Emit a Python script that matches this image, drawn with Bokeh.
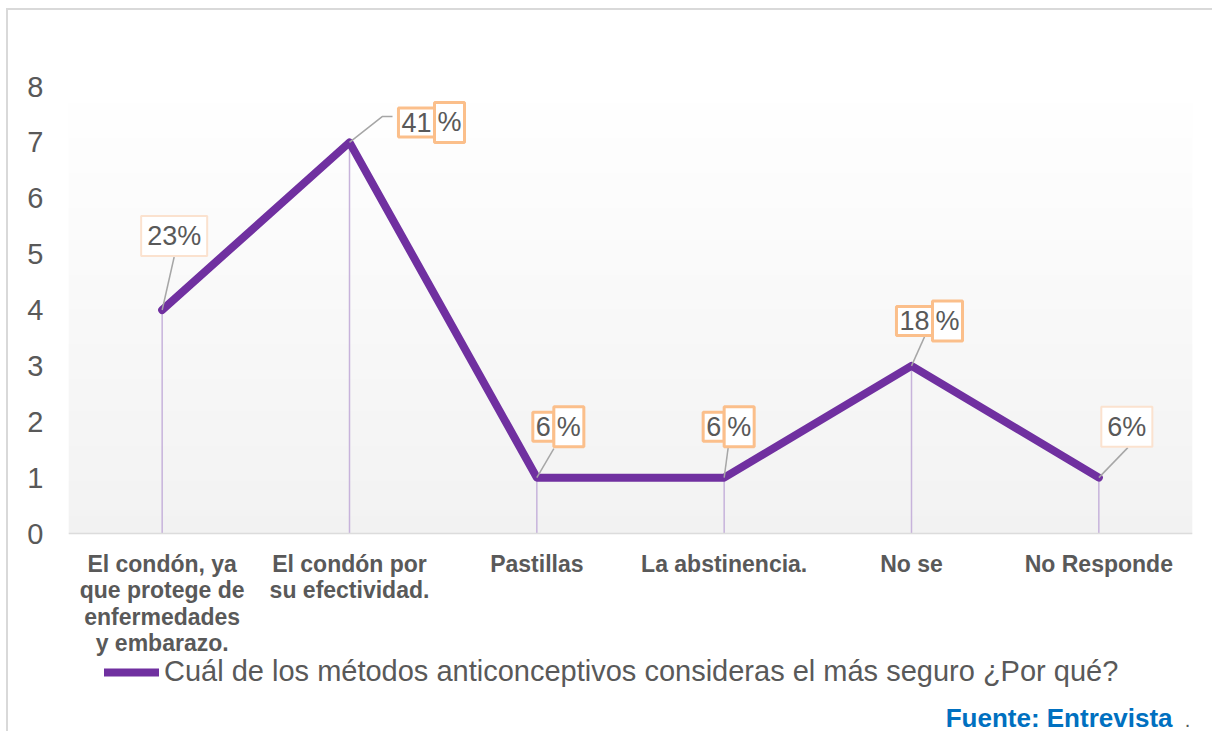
import numpy as np
from bokeh.plotting import figure
from bokeh.models import (FixedTicker, Range1d, Legend, LegendItem, Label,
                          ColumnDataSource)
from bokeh.embed import file_html
from bokeh.resources import INLINE
from bokeh.core.properties import value

# ---------------- data ----------------
categories = [
    "El condón, ya\nque protege de\nenfermedades\ny embarazo.",
    "El condón por\nsu efectividad.",
    "Pastillas",
    "La abstinencia.",
    "No se",
    "No Responde",
]
counts = [4, 7, 1, 1, 3, 1]
pct_labels = ["23%", "41%", "6%", "6%", "18%", "6%"]
y_ticks = [0, 1, 2, 3, 4, 5, 6, 7, 8]
series_name = "Cuál de los métodos anticonceptivos consideras el más seguro ¿Por qué?"
source_note = "Fuente: Entrevista"

# ---------------- layout / style ----------------
FONT = "Liberation Sans"
W, H = 1206, 723                 # canvas starts at page (8, 10)
B_LEFT, B_RIGHT, B_TOP, B_BOTTOM = 60, 22, 76, 0
FRAME_W = W - B_LEFT - B_RIGHT
FRAME_H = H - B_TOP - B_BOTTOM
N = len(categories)
YMAX = 8
PLOT_H = 447                     # pixel height of the 0..8 value band
UX = FRAME_W / N                 # px per x unit
UY = PLOT_H / YMAX               # px per y unit
YMIN = YMAX - FRAME_H / UY       # room below 0 for labels / legend

PURPLE = "#7030a0"
TXT = "#595959"

xs = [i + 0.5 for i in range(N)]

# label placement (screen px, relative to the point; dy positive = up)
label_dx = [12, 85, 17, 0, 21, 28]
label_dy = [74, 20, 51, 51, 45, 51]
split = [False, True, True, True, True, False]
leaders = [
    [(0, 0), (12, 53)],
    [(0, 0), (33, 26), (43, 26)],
    [(0, 0), (17, 29)],
    [(0, 0), (4, 30)],
    [(0, 0), (13, 29)],
    [(0, 0), (29, 30)],
]

p = figure(width=W, height=H, x_range=Range1d(0, N), y_range=Range1d(YMIN, YMAX),
           output_backend="svg", toolbar_location=None,
           min_border_left=B_LEFT, min_border_right=B_RIGHT,
           min_border_top=B_TOP, min_border_bottom=B_BOTTOM)
p.styles = {"border-left": "2px solid #d9d9d9", "border-top": "2px solid #d9d9d9",
            "margin-left": "6px", "margin-top": "8px"}
p.outline_line_color = None
p.grid.visible = False
p.background_fill_color = "white"
p.border_fill_color = "white"

# gradient plot-area background (white at top -> light grey at bottom)
n = 128
img = np.empty((n, 1), dtype=np.uint32)
view = img.view(dtype=np.uint8).reshape((n, 1, 4))
for r in range(n):
    t = r / (n - 1)            # 0 bottom -> 1 top
    c = int(round(242 + (255 - 242) * t))
    view[r, 0, :] = [c, c, c, 255]
p.image_rgba(image=[img], x=0, y=0, dw=N, dh=YMAX)

# drop lines
p.segment(x0=xs, y0=[0] * N, x1=xs, y1=counts, line_color="#c7b3db", line_width=1.5)

# main line
line_r = p.line(xs, counts, line_color=PURPLE, line_width=8,
                line_join="round", line_cap="round")

# leader lines
lx = [[xs[i] + dx / UX for dx, dy in leaders[i]] for i in range(N)]
ly = [[counts[i] + dy / UY for dx, dy in leaders[i]] for i in range(N)]
p.multi_line(lx, ly, line_color="#a6a6a6", line_width=1.5)

# data labels
PADS = dict(left=3, right=3, top=5, bottom=5)
plain = [i for i in range(N) if not split[i]]
spl = [i for i in range(N) if split[i]]

src_plain = ColumnDataSource(dict(
    x=[xs[i] for i in plain], y=[counts[i] for i in plain],
    t=[pct_labels[i] for i in plain],
    xo=[label_dx[i] for i in plain], yo=[-label_dy[i] for i in plain]))
p.text(x="x", y="y", text="t", x_offset="xo", y_offset="yo", source=src_plain,
       text_font=value(FONT), text_font_size="27px", text_color=TXT,
       text_align="center", text_baseline="middle",
       border_line_color="#fbe2cf", border_line_width=2,
       background_fill_color="white", padding=dict(left=6, right=6, top=5, bottom=5))

src_num = ColumnDataSource(dict(
    x=[xs[i] for i in spl], y=[counts[i] for i in spl],
    t=[pct_labels[i][:-1] for i in spl],
    xo=[label_dx[i] for i in spl], yo=[-label_dy[i] for i in spl]))
p.text(x="x", y="y", text="t", x_offset="xo", y_offset="yo", source=src_num,
       text_font=value(FONT), text_font_size="27px", text_color=TXT,
       text_align="right", text_baseline="middle",
       border_line_color="#fbbf8b", border_line_width=3,
       background_fill_color="white", padding=PADS)

src_pct = ColumnDataSource(dict(
    x=[xs[i] for i in spl], y=[counts[i] for i in spl],
    t=["%" for i in spl],
    xo=[label_dx[i] for i in spl], yo=[-label_dy[i] for i in spl]))
p.text(x="x", y="y", text="t", x_offset="xo", y_offset="yo", source=src_pct,
       text_font=value(FONT), text_font_size="27px", text_color=TXT,
       text_align="left", text_baseline="middle",
       border_line_color="#fbbf8b", border_line_width=3,
       background_fill_color="white", padding=PADS)

# axes
p.xaxis.fixed_location = 0
p.xaxis.ticker = FixedTicker(ticks=xs)
p.xaxis.major_label_overrides = {x: c for x, c in zip(xs, categories)}
p.xaxis.major_label_text_font = FONT
p.xaxis.major_label_text_font_size = "23px"
p.xaxis.major_label_text_font_style = "bold"
p.xaxis.major_label_text_color = TXT
p.xaxis.major_label_text_line_height = 1.02
p.xaxis.major_label_standoff = 11
p.xaxis.axis_line_color = "#dcdcdc"
p.xaxis.axis_line_width = 1.5
p.xaxis.major_tick_line_color = None
p.xaxis.minor_tick_line_color = None

p.yaxis.ticker = FixedTicker(ticks=y_ticks)
p.yaxis.major_label_text_font = FONT
p.yaxis.major_label_text_font_size = "29px"
p.yaxis.major_label_text_color = TXT
p.yaxis.major_label_standoff = 19
p.yaxis.axis_line_color = None
p.yaxis.major_tick_line_color = None
p.yaxis.minor_tick_line_color = None

# legend (inside the frame, below the category labels)
legend = Legend(items=[LegendItem(label=series_name, renderers=[line_r])],
                location=(36, 45), orientation="horizontal",
                label_text_font=FONT, label_text_font_size="29px",
                label_text_color=TXT, glyph_width=55, glyph_height=28,
                label_standoff=5, padding=0, margin=0, spacing=0,
                border_line_color=None, background_fill_alpha=0)
p.add_layout(legend)

# source note
p.add_layout(Label(x=(1172 - 68) / UX, y=-(717 - 533) / UY, text=source_note,
                   text_font=FONT, text_font_size="26px", text_font_style="bold",
                   text_color="#0070c0", text_align="right", text_baseline="middle"))
p.add_layout(Label(x=(1187 - 68) / UX, y=-(719 - 533) / UY, text=".",
                   text_font=FONT, text_font_size="20px", text_color=TXT,
                   text_align="center", text_baseline="middle"))

open("out.html", "w").write(file_html(p, INLINE))
